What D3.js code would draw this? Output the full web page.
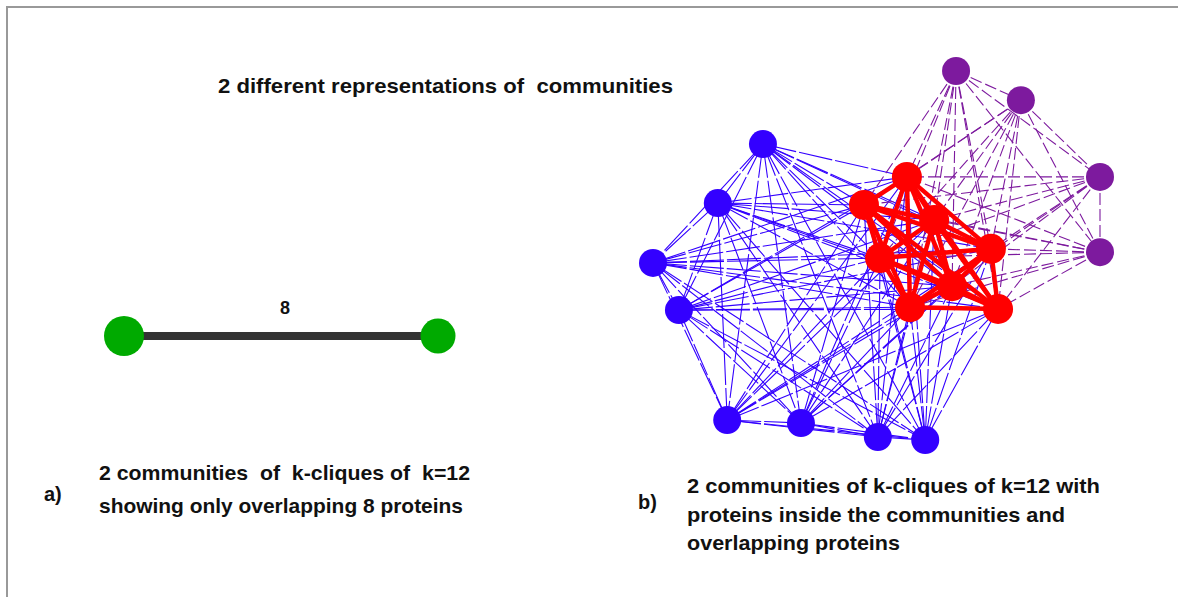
<!DOCTYPE html>
<html>
<head>
<meta charset="utf-8">
<script src="https://cdn.jsdelivr.net/npm/d3@7"></script>
<style>
  html, body { margin: 0; padding: 0; background: #fff; }
  svg { display: block; }
  text { font-family: "Liberation Sans", Arial, sans-serif; font-weight: bold; fill: #111; white-space: pre; }
</style>
</head>
<body>
<div id="chart"></div>
<script>
// panel b layout: node positions in a 0-100 layout space
var blueNodes = [
  {id: "B1", u: 24.6, v: 19.8},
  {id: "B2", u: 14.5, v: 35.8},
  {id: "B3", u: 0.0,  v: 52.0},
  {id: "B4", u: 5.8,  v: 64.8},
  {id: "B5", u: 16.6, v: 94.6},
  {id: "B6", u: 33.1, v: 95.4},
  {id: "B7", u: 50.3, v: 99.2},
  {id: "B8", u: 60.9, v: 100}
];
var purpleNodes = [
  {id: "P1", u: 67.8,  v: 0.0},
  {id: "P2", u: 82.3,  v: 7.9},
  {id: "P3", u: 100.0, v: 28.7},
  {id: "P4", u: 100.0, v: 49.1}
];
var redNodes = [
  {id: "R1", u: 56.8, v: 28.7},
  {id: "R2", u: 47.2, v: 36.3},
  {id: "R3", u: 62.9, v: 40.4},
  {id: "R4", u: 50.8, v: 50.7},
  {id: "R5", u: 75.6, v: 48.2},
  {id: "R6", u: 66.9, v: 58.3},
  {id: "R7", u: 57.5, v: 64.0},
  {id: "R8", u: 77.2, v: 64.5}
];
// panel a: two communities joined by overlap of 8 proteins
var overlapNodes = [
  {id: "C1", u: 0,   r: 20},
  {id: "C2", u: 100, r: 17.5}
];
var overlapSize = 8;

var titleText = "2 different representations of  communities";
var labelA = ["2 communities  of  k-cliques of  k=12", "showing only overlapping 8 proteins"];
var labelB = ["2 communities of k-cliques of k=12 with", "proteins inside the communities and", "overlapping proteins"];

var W = 1178, H = 597;
var svg = d3.select("#chart").append("svg")
  .attr("width", W).attr("height", H);

// frame (top and left only)
svg.append("line").attr("x1", 6).attr("x2", W).attr("y1", 7).attr("y2", 7)
  .style("stroke", "#999").style("stroke-width", 2);
svg.append("line").attr("x1", 7).attr("x2", 7).attr("y1", 6).attr("y2", H)
  .style("stroke", "#999").style("stroke-width", 2);

// scales for panel b
var xb = d3.scaleLinear().domain([0, 100]).range([653, 1100]);
var yb = d3.scaleLinear().domain([0, 100]).range([71, 440]);

// build edges: community 1 = blue + red, community 2 = purple + red
var blueEdges = [], purpleEdges = [], redEdges = [];
var comm1 = blueNodes.concat(redNodes);
for (var i = 0; i < comm1.length; i++) {
  for (var j = i + 1; j < comm1.length; j++) {
    if (comm1[i].id[0] == "R" && comm1[j].id[0] == "R") continue;
    blueEdges.push([comm1[i], comm1[j]]);
  }
}
var comm2 = purpleNodes.concat(redNodes);
for (var i = 0; i < comm2.length; i++) {
  for (var j = i + 1; j < comm2.length; j++) {
    if (comm2[i].id[0] == "R" && comm2[j].id[0] == "R") continue;
    purpleEdges.push([comm2[i], comm2[j]]);
  }
}
for (var i = 0; i < redNodes.length; i++) {
  for (var j = i + 1; j < redNodes.length; j++) {
    redEdges.push([redNodes[i], redNodes[j]]);
  }
}

var gb = svg.append("g");

function drawEdges(edges, color, width, dash) {
  gb.append("g").selectAll("line")
    .data(edges).enter()
    .append("line")
    .attr("x1", function(d) { return xb(d[0].u); })
    .attr("y1", function(d) { return yb(d[0].v); })
    .attr("x2", function(d) { return xb(d[1].u); })
    .attr("y2", function(d) { return yb(d[1].v); })
    .style("stroke", color)
    .style("stroke-width", width)
    .style("stroke-dasharray", dash);
}
drawEdges(blueEdges, "#3300ff", 1.1, "34,3");
drawEdges(purpleEdges, "#7d1a9e", 1.1, "12,4");
drawEdges(redEdges, "#ff0000", 4.5, null);

function drawNodes(nodes, color, r) {
  gb.append("g").selectAll("circle")
    .data(nodes).enter()
    .append("circle")
    .attr("cx", function(d) { return xb(d.u); })
    .attr("cy", function(d) { return yb(d.v); })
    .attr("r", r)
    .style("fill", color);
}
drawNodes(blueNodes, "#3300ff", 14);
drawNodes(purpleNodes, "#7d1a9e", 14);
drawNodes(redNodes, "#ff0000", 15);

// panel a
var xa = d3.scaleLinear().domain([0, 100]).range([124, 438]);
var ya = 336;
svg.append("line")
  .attr("x1", xa(0)).attr("x2", xa(100))
  .attr("y1", ya).attr("y2", ya)
  .style("stroke", "#333").style("stroke-width", 8);
svg.selectAll(".gnode")
  .data(overlapNodes).enter()
  .append("circle")
  .attr("class", "gnode")
  .attr("cx", function(d) { return xa(d.u); })
  .attr("cy", ya)
  .attr("r", function(d) { return d.r; })
  .style("fill", "#00aa00");
svg.append("text")
  .attr("x", 285).attr("y", 314)
  .style("text-anchor", "middle")
  .style("font-size", "18px")
  .text(overlapSize);

// texts
svg.append("text")
  .attr("x", 218).attr("y", 93)
  .attr("textLength", 455).attr("lengthAdjust", "spacingAndGlyphs")
  .style("font-size", "21px")
  .text(titleText);

svg.append("text").attr("x", 44).attr("y", 501).style("font-size", "20px").text("a)");
labelA.forEach(function(t, i) {
  svg.append("text")
    .attr("x", 99).attr("y", 480 + i * 33)
    .attr("textLength", i == 0 ? 371 : 364).attr("lengthAdjust", "spacingAndGlyphs")
    .style("font-size", "21px")
    .text(t);
});

svg.append("text").attr("x", 638).attr("y", 509).style("font-size", "20px").text("b)");
var lbLen = [413, 378, 213];
labelB.forEach(function(t, i) {
  svg.append("text")
    .attr("x", 687).attr("y", 493 + i * 28.5)
    .attr("textLength", lbLen[i]).attr("lengthAdjust", "spacingAndGlyphs")
    .style("font-size", "21px")
    .text(t);
});
</script>
</body>
</html>
